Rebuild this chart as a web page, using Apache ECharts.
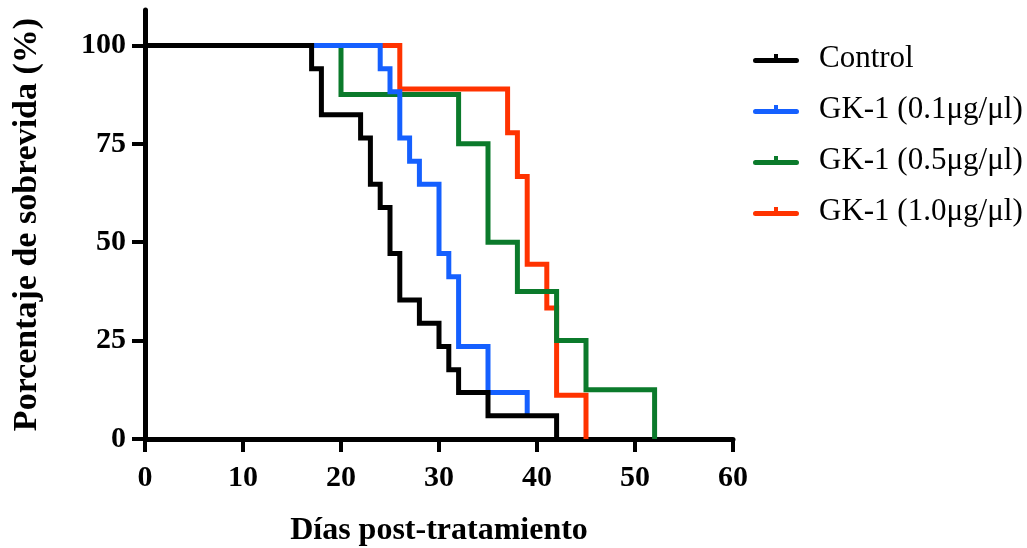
<!DOCTYPE html>
<html>
<head>
<meta charset="utf-8">
<script src="https://cdn.jsdelivr.net/npm/echarts@6/dist/echarts.min.js"></script>
<style>html,body{margin:0;padding:0;background:#fff}#c{width:1027px;height:548px}</style>
</head>
<body>
<div id="c"></div>
<script>
// Kaplan-Meier step points: [day, survival %]
var seriesNames = ['Control', 'GK-1 (0.1μg/μl)', 'GK-1 (0.5μg/μl)', 'GK-1 (1.0μg/μl)'];
var controlData = [[0,100],[17,94.1],[18,82.4],[22,76.5],[23,64.7],[24,58.8],[25,47.1],[26,35.3],[28,29.4],[30,23.5],[31,17.6],[32,11.8],[35,5.9],[42,0]];
var gk01Data = [[0,100],[24,94.1],[25,88.2],[26,76.5],[27,70.6],[28,64.7],[30,47.1],[31,41.2],[32,23.5],[35,11.8],[39,5.9]];
var gk05Data = [[0,100],[20,87.5],[32,75],[35,50],[38,37.5],[42,25],[45,12.5],[52,0]];
var gk10Data = [[0,100],[26,88.9],[37,77.8],[38,66.7],[39,44.4],[41,33.3],[42,11.1],[45,0]];
var yTicks = [0,25,50,75,100];
var colors = ['#000000', '#1560FF', '#0B7A2B', '#FF3300'];

var font = '"Liberation Serif", "Times New Roman", serif';
var chart = echarts.init(document.getElementById('c'));
function mk(i, data, z) {
  return {
    name: seriesNames[i], type: 'line', step: 'end', data: data, symbol: 'none', z: z,
    lineStyle: { color: colors[i], width: 5, cap: 'butt', join: 'miter' },
    itemStyle: { color: colors[i] }
  };
}
chart.setOption({
  animation: false,
  backgroundColor: '#fff',
  grid: { left: 145, right: 294, top: 10, bottom: 109, containLabel: false, outerBoundsMode: 'none' },
  legend: {
    orient: 'vertical', left: 748, top: 38, itemGap: 20,
    itemWidth: 46, itemHeight: 9,
    icon: 'path://M2.5,4 L43.5,4 A2.5,2.5 0 0 1 43.5,9 L2.5,9 A2.5,2.5 0 0 1 2.5,4 Z M21,0 L25,0 L25,4 L21,4 Z',
    itemStyle: { borderWidth: 0 },
    textStyle: { fontFamily: font, fontSize: 31, color: '#000', lineHeight: 30, padding: [0,0,0,15] },
    data: seriesNames
  },
  xAxis: {
    type: 'value', min: 0, max: 60, interval: 10,
    name: 'Días post-tratamiento', nameLocation: 'middle', nameGap: 76,
    nameTextStyle: { fontFamily: font, fontSize: 32, fontWeight: 'bold', color: '#000' },
    axisLine: { show: true, lineStyle: { color: '#000', width: 5 } },
    axisTick: { show: true, length: 13, lineStyle: { color: '#000', width: 4 } },
    axisLabel: { fontFamily: font, fontSize: 30, fontWeight: 'bold', color: '#000', margin: 24 },
    splitLine: { show: false }
  },
  yAxis: {
    type: 'value', min: 0, max: 109, interval: 25,
    name: 'Porcentaje de sobrevida (%)', nameLocation: 'middle', nameGap: 101, nameRotate: 90,
    nameTextStyle: { fontFamily: font, fontSize: 34, fontWeight: 'bold', color: '#000' },
    axisLine: { show: true, lineStyle: { color: '#000', width: 5 } },
    axisTick: { show: true, length: 13, customValues: yTicks, lineStyle: { color: '#000', width: 4 } },
    axisLabel: { fontFamily: font, fontSize: 30, fontWeight: 'bold', color: '#000', margin: 19, customValues: yTicks },
    splitLine: { show: false }
  },
  series: [
    mk(0, controlData, 10),
    mk(1, gk01Data, 9),
    mk(2, gk05Data, 8),
    mk(3, gk10Data, 7)
  ]
});
</script>
</body>
</html>
